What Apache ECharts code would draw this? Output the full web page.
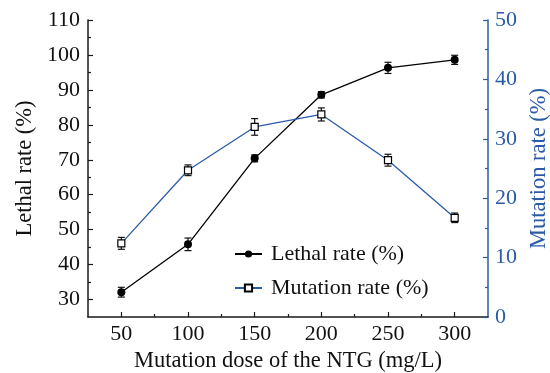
<!DOCTYPE html>
<html>
<head>
<meta charset="utf-8">
<script src="https://cdn.jsdelivr.net/npm/echarts@6/dist/echarts.min.js"></script>
<style>
html,body{margin:0;padding:0;background:#fff;}
#chart{width:550px;height:373px;}
</style>
</head>
<body>
<div id="chart"></div>
<script>
var doses = [50, 100, 150, 200, 250, 300];
var lethal = [32.1, 45.8, 70.4, 88.6, 96.3, 98.6];
var lethalErr = [1.4, 1.8, 1.0, 0.9, 1.6, 1.3];
var mutation = [12.4, 24.7, 32.0, 34.1, 26.4, 16.7];
var mutationErr = [1.0, 0.9, 1.4, 1.1, 1.0, 0.8];
var xMajorTicks = [50, 100, 150, 200, 250, 300];
var xMinorTicks = [75, 125, 175, 225, 275];
var leftMajorTicks = [30, 40, 50, 60, 70, 80, 90, 100, 110];
var leftMinorTicks = [35, 45, 55, 65, 75, 85, 95, 105];

var FONT = 'Liberation Serif';
var BLUE = '#2b5ba8';
var AX = '#1a1a1a';

function pairs(xs, ys) { return xs.map(function (x, i) { return [x, ys[i]]; }); }
function errData(xs, ys, es) { return xs.map(function (x, i) { return [x, ys[i] - es[i], ys[i] + es[i]]; }); }

function errRender(params, api) {
  var x = api.value(0);
  var lo = api.coord([x, api.value(1)]);
  var hi = api.coord([x, api.value(2)]);
  var w = 3.5;
  var st = { stroke: '#111', lineWidth: 1.2 };
  return {
    type: 'group',
    children: [
      { type: 'line', shape: { x1: lo[0], y1: lo[1], x2: hi[0], y2: hi[1] }, style: st },
      { type: 'line', shape: { x1: lo[0] - w, y1: lo[1], x2: lo[0] + w, y2: lo[1] }, style: st },
      { type: 'line', shape: { x1: hi[0] - w, y1: hi[1], x2: hi[0] + w, y2: hi[1] }, style: st }
    ]
  };
}

var chart = echarts.init(document.getElementById('chart'));
chart.setOption({
  animation: false,
  backgroundColor: '#fff',
  grid: { left: 88, right: 62, top: 20, bottom: 56, containLabel: false, outerBoundsMode: 'none' },
  legend: {
    orient: 'vertical',
    left: 229,
    top: 238,
    itemWidth: 27,
    itemHeight: 9,
    itemGap: 12,
    textStyle: { fontFamily: FONT, fontSize: 22, color: '#111', lineHeight: 22, padding: [0, 0, 0, 4] },
    data: ['Lethal rate (%)', 'Mutation rate (%)']
  },
  xAxis: [
    {
      type: 'value', min: 25, max: 325, interval: 25,
      name: 'Mutation dose of the NTG (mg/L)',
      nameLocation: 'middle', nameGap: 30,
      nameTextStyle: { fontFamily: FONT, fontSize: 22.5, color: '#111' },
      axisLine: { show: true, lineStyle: { color: AX, width: 1.5 } },
      axisTick: { show: true, inside: true, length: 5, customValues: xMajorTicks, lineStyle: { color: AX, width: 1.2 } },
      axisLabel: { customValues: xMajorTicks, fontFamily: FONT, fontSize: 22, color: '#111', margin: 6 },
      splitLine: { show: false }
    },
    {
      type: 'value', min: 25, max: 325, position: 'bottom',
      axisLine: { show: false },
      axisTick: { show: true, inside: true, length: 3, customValues: xMinorTicks, lineStyle: { color: AX, width: 1.2 } },
      axisLabel: { show: false },
      splitLine: { show: false }
    }
  ],
  yAxis: [
    {
      type: 'value', min: 25, max: 110, position: 'left',
      name: 'Lethal rate (%)',
      nameLocation: 'middle', nameGap: 49,
      nameTextStyle: { fontFamily: FONT, fontSize: 22.5, color: '#111' },
      axisLine: { show: true, lineStyle: { color: AX, width: 1.5 } },
      axisTick: { show: true, inside: true, length: 5, customValues: leftMajorTicks, lineStyle: { color: AX, width: 1.2 } },
      axisLabel: { customValues: leftMajorTicks, fontFamily: FONT, fontSize: 22, color: '#111', margin: 8 },
      splitLine: { show: false }
    },
    {
      type: 'value', min: 0, max: 50, interval: 10, position: 'right',
      name: 'Mutation rate (%)',
      nameLocation: 'middle', nameGap: 40, nameRotate: 90,
      nameTextStyle: { fontFamily: FONT, fontSize: 22.5, color: BLUE },
      axisLine: { show: true, lineStyle: { color: BLUE, width: 1.5 } },
      axisTick: { show: true, inside: true, length: 5, lineStyle: { color: BLUE, width: 1.2 } },
      minorTick: { show: true, splitNumber: 2, length: 3, lineStyle: { color: BLUE, width: 1.2 } },
      axisLabel: { fontFamily: FONT, fontSize: 22, color: BLUE, margin: 7 },
      splitLine: { show: false },
      minorSplitLine: { show: false }
    },
    {
      type: 'value', min: 25, max: 110, position: 'left',
      axisLine: { show: false },
      axisTick: { show: true, inside: true, length: 3, customValues: leftMinorTicks, lineStyle: { color: AX, width: 1.2 } },
      axisLabel: { show: false },
      splitLine: { show: false }
    }
  ],
  series: [
    {
      type: 'custom', name: 'lethalErr', xAxisIndex: 0, yAxisIndex: 0,
      renderItem: errRender, data: errData(doses, lethal, lethalErr),
      encode: { x: 0, y: [1, 2] }, z: 1, silent: true
    },
    {
      type: 'custom', name: 'mutErr', xAxisIndex: 0, yAxisIndex: 1,
      renderItem: errRender, data: errData(doses, mutation, mutationErr),
      encode: { x: 0, y: [1, 2] }, z: 1, silent: true
    },
    {
      type: 'line', name: 'Lethal rate (%)', xAxisIndex: 0, yAxisIndex: 0,
      data: pairs(doses, lethal),
      symbol: 'circle', symbolSize: 8,
      lineStyle: { color: '#000', width: 1.3 },
      itemStyle: { color: '#000', borderColor: '#000', borderWidth: 0 },
      z: 3
    },
    {
      type: 'line', name: 'Mutation rate (%)', xAxisIndex: 0, yAxisIndex: 1,
      data: pairs(doses, mutation),
      symbol: 'rect', symbolSize: 7,
      lineStyle: { color: BLUE, width: 1.3 },
      itemStyle: { color: '#fff', borderColor: '#000', borderWidth: 1.2 },
      z: 3
    }
  ]
});
</script>
</body>
</html>
